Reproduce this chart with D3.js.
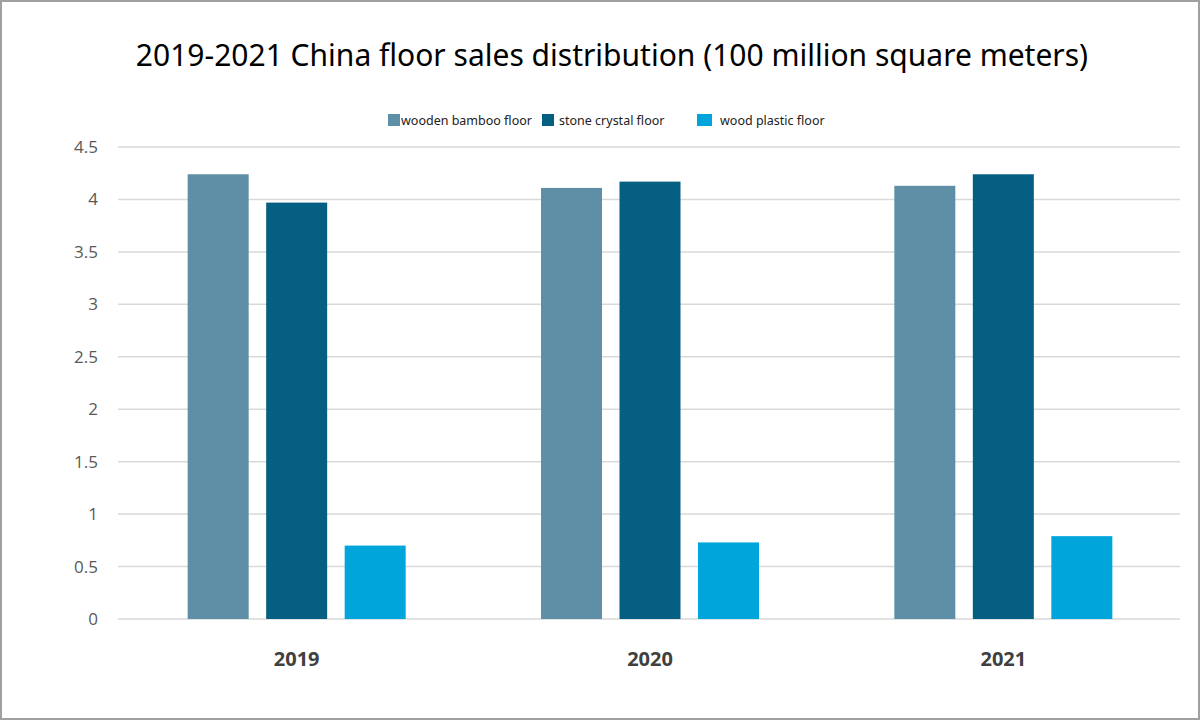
<!DOCTYPE html>
<html><head><meta charset="utf-8">
<script src="https://cdn.jsdelivr.net/npm/d3@7"></script>
<style>body{margin:0;background:#fff}</style>
</head><body><div id="chart"></div>
<script>
var years = ["2019", "2020", "2021"];
var seriesNames = ["wooden bamboo floor", "stone crystal floor", "wood plastic floor"];
var wooden = [4.24, 4.11, 4.13];
var stone = [3.97, 4.17, 4.24];
var plastic = [0.70, 0.73, 0.79];
var yTicks = [0, 0.5, 1, 1.5, 2, 2.5, 3, 3.5, 4, 4.5];
var colors = ["#5f8fa6", "#045f82", "#00a5dc"];

var width = 1200, height = 720;
var svg = d3.select("#chart").append("svg").attr("width", width).attr("height", height);

svg.append("rect").attr("x", 1).attr("y", 1).attr("width", width - 2).attr("height", height - 2)
   .attr("fill", "#fff").attr("stroke", "#a0a0a0").attr("stroke-width", 2);

svg.append("text").attr("x", 612).attr("y", 66).attr("text-anchor", "middle")
   .style("font-family", "'Noto Sans', sans-serif").style("font-size", "30px").attr("fill", "#000")
   .text("2019-2021 China floor sales distribution (100 million square meters)");

var x = d3.scaleBand().domain(years).range([120, 1180]);
var y = d3.scaleLinear().domain([0, 4.5]).range([619, 147]);

svg.selectAll(".grid").data(yTicks).enter().append("line")
   .attr("x1", 118).attr("x2", 1180)
   .attr("y1", d => y(d)).attr("y2", d => y(d))
   .attr("stroke", "#d9d9d9").attr("stroke-width", 1.5);

svg.selectAll(".ylab").data(yTicks).enter().append("text")
   .attr("x", 98).attr("y", d => y(d) + 6).attr("text-anchor", "end")
   .style("font-family", "'Open Sans', sans-serif").style("font-size", "17px").attr("fill", "#595959")
   .text(d => d);

var data = [wooden, stone, plastic];
var bw = 61, step = 78.5;
data.forEach(function(vals, s) {
  svg.selectAll(".bar" + s).data(years).enter().append("rect")
     .attr("x", d => x(d) + x.bandwidth() / 2 + (s - 1) * step - bw / 2)
     .attr("y", (d, i) => y(vals[i]))
     .attr("width", bw)
     .attr("height", (d, i) => y(0) - y(vals[i]))
     .attr("fill", colors[s]);
});

svg.selectAll(".xlab").data(years).enter().append("text")
   .attr("x", d => x(d) + x.bandwidth() / 2).attr("y", 666).attr("text-anchor", "middle")
   .style("font-family", "'Open Sans', sans-serif").style("font-size", "20px").style("font-weight", "bold")
   .attr("fill", "#404040").text(d => d);

var legendX = [388, 542, 697], legendTextX = [401, 559, 720];
seriesNames.forEach(function(n, i) {
  svg.append("rect").attr("x", legendX[i]).attr("y", 114).attr("width", i == 2 ? 15 : 12).attr("height", 12).attr("fill", colors[i]);
  svg.append("text").attr("x", legendTextX[i]).attr("y", 125)
     .style("font-family", "'Noto Sans', sans-serif").style("font-size", "12.5px").attr("fill", "#222").text(n);
});
</script></body></html>
